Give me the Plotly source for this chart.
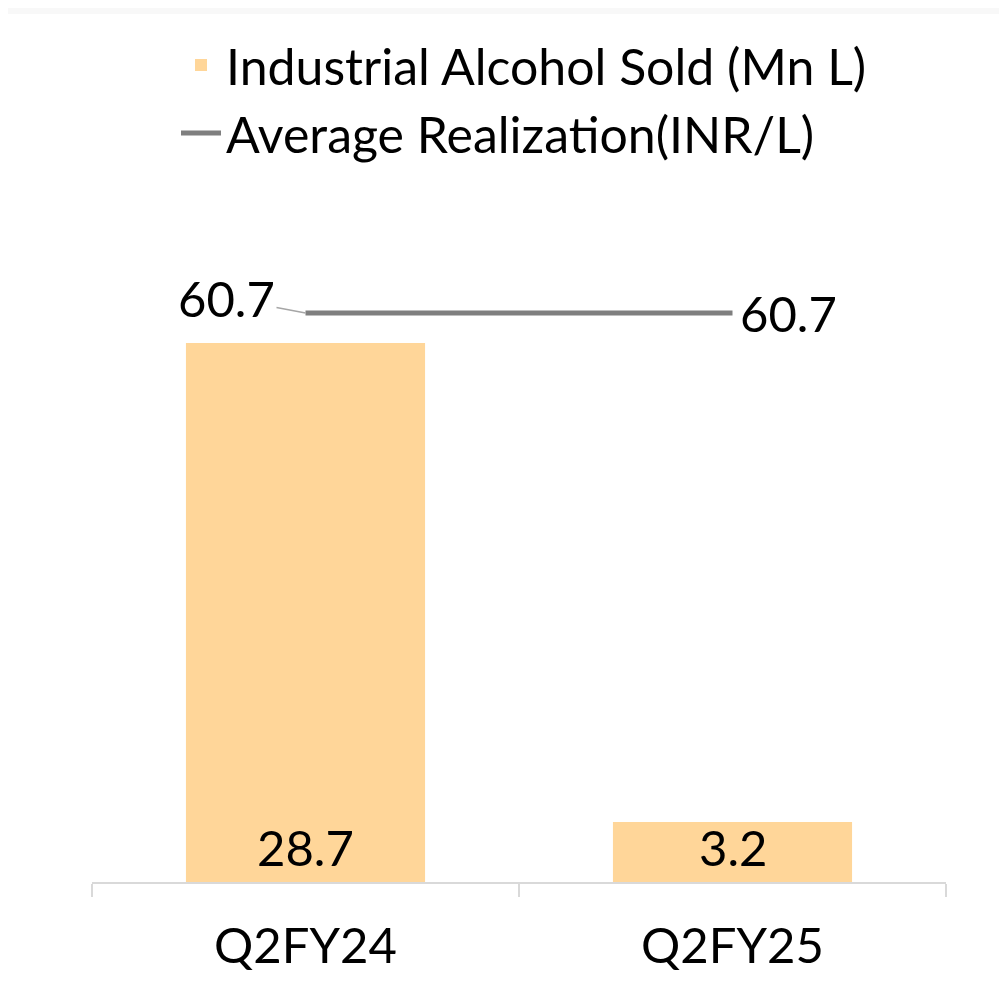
import plotly.graph_objects as go

categories = ["Q2FY24", "Q2FY25"]
alcohol_sold = [28.7, 3.2]
avg_realization = [60.7, 60.7]
bar_labels = ["28.7", "3.2"]
line_labels = ["60.7", "60.7"]

FONT = "Lato"
BAR_COLOR = "#FFD699"
LINE_COLOR = "#7F7F7F"
NUM_SIZE = 49

fig = go.Figure()
fig.add_trace(go.Bar(
    x=categories, y=alcohol_sold, name="Industrial Alcohol Sold (Mn L)",
    marker=dict(color=BAR_COLOR, line=dict(width=0)),
    width=0.56, hoverinfo="skip",
))
fig.add_trace(go.Scatter(
    x=categories, y=avg_realization, name="Average Realization(INR/L)",
    mode="lines", line=dict(color=LINE_COLOR, width=5),
    yaxis="y2", hoverinfo="skip",
))

# bar value labels at the bottom of each bar
for cat, lab in zip(categories, bar_labels):
    fig.add_annotation(x=cat, y=0, yref="y", text=lab, showarrow=False,
                       yanchor="bottom", yshift=4,
                       font=dict(family=FONT, size=NUM_SIZE, color="black"))

# line labels
fig.add_annotation(x=categories[0], y=avg_realization[0], yref="y2", text=line_labels[0],
                   showarrow=True, arrowhead=0, ax=-79, ay=-15, arrowcolor="#A6A6A6",
                   arrowwidth=1.5, standoff=0,
                   font=dict(family=FONT, size=NUM_SIZE, color="black"))
fig.add_annotation(x=categories[1], y=avg_realization[1], yref="y2", text=line_labels[1],
                   showarrow=False, xanchor="left", xshift=5,
                   font=dict(family=FONT, size=NUM_SIZE, color="black"))

# faint top band of the page frame
fig.add_shape(type="rect", xref="paper", yref="paper",
              x0=-84 / 854, x1=(999 - 84) / 854,
              y0=(874 - 6) / 682, y1=874 / 682,
              fillcolor="#F8F8F8", line=dict(width=0), layer="below")

fig.update_layout(
    width=999, height=977, autosize=False,
    margin=dict(l=84, r=61, t=192, b=103),
    paper_bgcolor="white", plot_bgcolor="rgba(0,0,0,0)",
    font=dict(family=FONT, size=49, color="black"),
    showlegend=True,
    legend=dict(x=(168 - 84) / 854, y=(874 - 18) / 682, xanchor="left", yanchor="top",
                bgcolor="rgba(0,0,0,0)", font=dict(family=FONT, size=50, color="black"),
                itemwidth=40, tracegroupgap=0),
    xaxis=dict(type="category", range=[-0.5, 1.5], showline=True, linecolor="#D9D9D9",
               linewidth=2, ticks="outside", tickson="boundaries", ticklen=13,
               tickcolor="#D9D9D9", tickwidth=2, showgrid=False, zeroline=False,
               ticklabelstandoff=20,
               tickfont=dict(family=FONT, size=NUM_SIZE, color="black")),
    yaxis=dict(range=[0, 682 / 18.78], visible=False, showgrid=False, zeroline=False),
    yaxis2=dict(range=[0, 60.7 * 682 / 569], overlaying="y", side="right", visible=False,
                showgrid=False, zeroline=False),
)

fig.write_html("out.html")
